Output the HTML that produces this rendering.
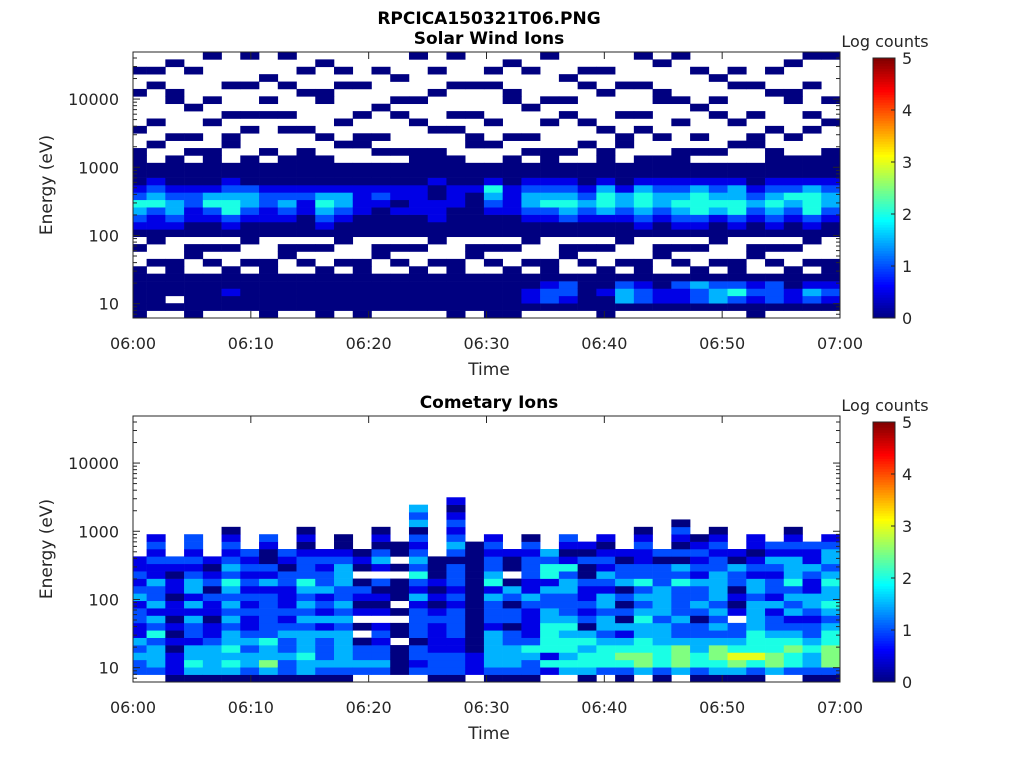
<!DOCTYPE html>
<html><head><meta charset="utf-8"><style>
body{margin:0;background:#fff;width:1024px;height:768px;overflow:hidden;font-family:"DejaVu Sans","Liberation Sans",sans-serif}
svg text{font-family:"DejaVu Sans","Liberation Sans",sans-serif;fill:#262626}
</style></head><body>
<svg id="chart" width="1024" height="768" xmlns="http://www.w3.org/2000/svg">
<text x="489" y="24" text-anchor="middle" font-size="17" font-weight="bold" style="fill:#000">RPCICA150321T06.PNG</text>
</svg>
<script>
const timeTicks=["06:00","06:10","06:20","06:30","06:40","06:50","07:00"];
const energyTicks=[10,100,1000,10000];
const cbTicks=[0,1,2,3,4,5];
const logEMin=0.79, logEMax=4.69, nRows=36;
const swIons=[
"0 00000 0..0. 0123421000 00..0....0..0..",
". 00000 .0..0 0112432100 ..0..0....0.0..",
". 0.000 00... 0123321000 0..0....00...0.",
"0 00000 ..00. 0011221000 .0.0...0....0..",
". 00000 .0.0. 0012431000 00...0..0.....0",
". 00100 0..0. 0124432100 ..00..0...0....",
". 00000 .0..0 0012332000 0...0.0...0...0",
"0 00000 00... 0011221000 .0....0.0..0...",
". 00000 ..00. 0012321000 0...0.0...0...0",
". 00000 .0.0. 0001121000 00..0....0..0..",
"0 00000 0..0. 0123431000 0..0....00...0.",
". 00000 .0..0 0012331000 ..0..0....0.0..",
"0 00000 00... 0001111000 ..00..0...0....",
". 00000 ..00. 0000121000 .0.0...0....0..",
". 00000 .0.0. 0001011000 .0....0.0..0...",
". 00000 0..0. 0001111000 00...0..0.....0",
". 00000 .0..0 0011100100 00..0....0..0..",
"0 00000 00... 0000111000 0...0.0...0...0",
". 00000 ..00. 0000001000 ..00..0...0....",
"0 00000 .0.0. 0001234100 ..0..0....0.0..",
"0 00000 0..0. 0001111000 0..0....00...0.",
". 01100 .0..0 0012332100 .0.0...0....0..",
". 02210 00... 0012432100 00...0..0.....0",
". 01220 ..00. 0023432100 .0....0.0..0...",
". 00000 .0.0. 0012321000 ..0..0....0.0..",
"0 00100 0..0. 0013443100 00..0....0..0..",
". 03320 .0..0 0012331000 ..00..0...0....",
". 02210 00... 0123443100 0...0.0...0...0",
". 01100 ..00. 0012332100 0..0....00...0.",
". 01120 .0.0. 0123432100 00...0..0.....0",
". 02230 0..0. 0124443100 .0.0...0....0..",
". 03320 .0..0 0013432100 .0....0.0..0...",
". 02420 00... 0124433100 ..0..0....0.0..",
"0 01210 ..00. 0012321000 ..00..0...0....",
". 02220 .0.0. 0123432100 00..0....0..0..",
". 01100 0..0. 0012342100 0..0....00...0.",
". 02310 .0..0 0124443100 0...0.0...0...0",
". 01210 00... 0012332100 00...0..0.....0"];
const cometIons=[
". 223 231 122132 1211... ................",
". 233 324 231322 3112121 ................",
"0 111 010 101101 1012... ................",
"0 343 312 231313 3212122 ................",
"0 333 321 101120 2101... ................",
"0 343 433 232323 4232121 0...............",
"0 233 232 112121 21212.. ................",
"0 353 342 222221 3120012 ................",
"0 223 223 212111 22012.. ................",
"0 334 333 232323 4222101 0...............",
"0 232 223 131213 22121.. ................",
"0 233 333 232322 3332100 ................",
". 232 20. 0.1012 0.010.. ................",
". 232 212 1.1010 2.13201 0...............",
". 000 0.0 0.0.00 0.0.00. ................",
". 212 202 222131 2423212 0323............",
"0 222 111 121010 1000... ................",
"0 222 112 222121 2220232 12101...........",
". 111 000 000000 000000. ................",
"0 233 333 122231 4322121 ................",
"0 233 322 022023 0.001.. ................",
"0 223 421 111231 1222120 ................",
". 141 444 433223 14423.. ................",
". 343 443 432223 3241012 ................",
"0 344 343 021211 200201. ................",
". 244 432 332331 2312101 ................",
"0 245 431 302020 32201.. ................",
". 355 443 343232 4221121 0...............",
"0 244 433 323333 22202.. ................",
". 355 532 232222 4230201 20..............",
"0 244 332 202322 3121210 ................",
"0 345 532 323233 3322121 0...............",
"0 356 432 2.1010 22301.. ................",
"0 246 444 333323 3121011 ................",
". 355 443 221312 212312. ................",
". 244 543 213232 4333121 0...............",
"0 233 432 212331 123112. ................",
"0 255 544 323433 4323321 ................"];
const NS="http://www.w3.org/2000/svg";
const svg=document.getElementById('chart');
function el(t,a,p){const e=document.createElementNS(NS,t);for(const k in a)e.setAttribute(k,a[k]);(p||svg).appendChild(e);return e;}
function jet(v){v=Math.max(0,Math.min(1,v));
 const r=Math.max(0,Math.min(1,1.5-Math.abs(4*v-3))),g=Math.max(0,Math.min(1,1.5-Math.abs(4*v-2))),b=Math.max(0,Math.min(1,1.5-Math.abs(4*v-1)));
 return `rgb(${Math.round(r*255)},${Math.round(g*255)},${Math.round(b*255)})`;}
const X0=133,X1=840;
function xScale(min){return X0+(X1-X0)*min/60;}
function colEdges(k,n){const first=13.6,w=(X1-X0-first)/(n-1);return k===0?[X0,X0+first]:[X0+first+(k-1)*w,X0+first+k*w];}
function panel(name,title,data,top,bottom){
 const g=el('g',{});
 
 
 const yScale=le=>bottom-(le-logEMin)/(logEMax-logEMin)*(bottom-top);
 const rh=(logEMax-logEMin)/nRows;
 data.forEach((s,k)=>{const str=s.replace(/ /g,'');const [xa,xb]=colEdges(k,data.length);
  for(let i=0;i<str.length&&i<nRows;i++){const c=str[i];if(c==='.')continue;
   const v=parseInt(c)*0.5;const ya=yScale(logEMin+i*rh),yb=yScale(logEMin+(i+1)*rh);
   const r=el('rect',{x:xa.toFixed(2),y:yb.toFixed(2),width:(xb-xa+0.3).toFixed(2),height:(ya-yb+0.3).toFixed(2),fill:jet(v/5)},g);
   
   }});
 el('rect',{x:X0,y:top,width:X1-X0,height:bottom-top,fill:'none',stroke:'#262626','stroke-width':1},g);
 const t=el('text',{x:489,y:top-8,'text-anchor':'middle','font-size':'17','font-weight':'bold',style:'fill:#000'},g);t.textContent=title;
 
 timeTicks.forEach((lab,i)=>{const x=xScale(i*10);
  el('line',{x1:x,x2:x,y1:bottom,y2:bottom-7,stroke:'#262626'},g);el('line',{x1:x,x2:x,y1:top,y2:top+7,stroke:'#262626'},g);
  const tx=el('text',{x:x,y:bottom+31,'text-anchor':'middle','font-size':'16'},g);tx.textContent=lab;
  });
 for(let d=0;d<5;d++)for(let m=1;m<10;m++){const le=d+Math.log10(m);if(le<logEMin||le>logEMax)continue;const y=yScale(le);const L=m===1?7:4;
  el('line',{x1:X0,x2:X0+L,y1:y,y2:y,stroke:'#262626'},g);el('line',{x1:X1,x2:X1-L,y1:y,y2:y,stroke:'#262626'},g);}
 energyTicks.forEach(e=>{const y=yScale(Math.log10(e));const tx=el('text',{x:X0-14,y:y+6,'text-anchor':'end','font-size':'16'},g);tx.textContent=e;
  });
 const xl=el('text',{x:489,y:bottom+57,'text-anchor':'middle','font-size':'17'},g);xl.textContent='Time';
 
 const cy=(top+bottom)/2;const yl=el('text',{x:52,y:cy,'text-anchor':'middle','font-size':'17',transform:`rotate(-90 52 ${cy})`},g);yl.textContent='Energy (eV)';
 
 const cbT=top+6,cbB=bottom,cx=873,cw=22;
 for(let i=0;i<100;i++){const y0=cbB-(i+1)*(cbB-cbT)/100;el('rect',{x:cx,y:y0,width:cw,height:(cbB-cbT)/100+0.5,fill:jet((i+0.5)/100)},g);}
 el('rect',{x:cx,y:cbT,width:cw,height:cbB-cbT,fill:'none',stroke:'#262626'},g);
 cbTicks.forEach(v=>{const y=cbB-v/5*(cbB-cbT);el('line',{x1:cx+cw,x2:cx+cw-4,y1:y,y2:y,stroke:'#262626'},g);
  const tx=el('text',{x:cx+cw+7,y:y+6,'font-size':'16'},g);tx.textContent=v;
  });
 const ct=el('text',{x:885,y:top-5,'text-anchor':'middle','font-size':'16'},g);ct.textContent='Log counts';
 
}
panel('solar-wind-panel','Solar Wind Ions',swIons,52,318);
panel('cometary-panel','Cometary Ions',cometIons,416,682);
</script>
</body></html>
